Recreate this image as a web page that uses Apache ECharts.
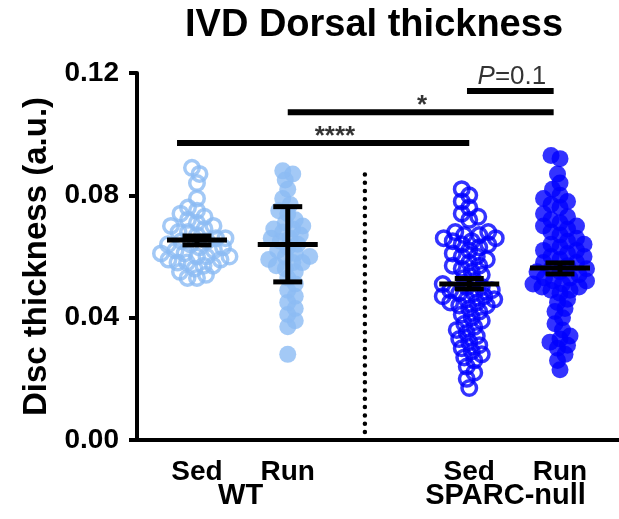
<!DOCTYPE html>
<html>
<head>
<meta charset="utf-8">
<script src="https://cdn.jsdelivr.net/npm/echarts@6/dist/echarts.min.js"></script>
<style>
  html, body { margin: 0; padding: 0; background: #fff; }
  #chart { width: 619px; height: 519px; }
</style>
</head>
<body>
<div id="chart"></div>
<script>
  // categories
  const conditions = ['Sed', 'Run', 'Sed', 'Run'];
  const genotypes = ['WT', 'SPARC-null'];

  // disc thickness readings per group
  const wtSed = [0.089, 0.087, 0.084, 0.079, 0.076, 0.075, 0.074, 0.073, 0.072, 0.071, 0.070, 0.070, 0.069, 0.068,
    0.068, 0.067, 0.066, 0.066, 0.065, 0.065, 0.064, 0.064, 0.063, 0.063, 0.062, 0.062, 0.061, 0.061, 0.060, 0.060,
    0.060, 0.059, 0.059, 0.058, 0.058, 0.057, 0.057, 0.056, 0.055, 0.054, 0.053, 0.053];
  const wtRun = [0.088, 0.087, 0.085, 0.082, 0.079, 0.077, 0.075, 0.074, 0.072, 0.071, 0.070, 0.069, 0.069, 0.068,
    0.067, 0.066, 0.066, 0.065, 0.064, 0.063, 0.062, 0.061, 0.060, 0.060, 0.059, 0.058, 0.058, 0.057, 0.056, 0.055,
    0.053, 0.051, 0.049, 0.047, 0.045, 0.043, 0.041, 0.039, 0.037, 0.028];
  const nullSed = [0.082, 0.080, 0.078, 0.076, 0.074, 0.073, 0.072,
    0.068, 0.068, 0.067, 0.067, 0.066, 0.066, 0.065, 0.065, 0.064, 0.064,
    0.063, 0.062, 0.061, 0.060, 0.060, 0.059, 0.058, 0.057, 0.057, 0.056, 0.055,
    0.054, 0.053, 0.052, 0.051, 0.050, 0.050, 0.049, 0.049, 0.048, 0.048, 0.047, 0.047, 0.046, 0.046, 0.045, 0.045, 0.044, 0.044,
    0.043, 0.042, 0.041, 0.040, 0.039, 0.038, 0.037, 0.036, 0.035,
    0.034, 0.033, 0.032, 0.031, 0.030, 0.029, 0.028, 0.027, 0.026,
    0.024, 0.022, 0.020, 0.017];
  const nullRun = [0.093, 0.092, 0.087, 0.084, 0.082, 0.080, 0.079, 0.078, 0.077, 0.076,
    0.074, 0.073, 0.072, 0.071, 0.070, 0.070, 0.069, 0.068,
    0.067, 0.066, 0.065, 0.064, 0.064, 0.063, 0.062, 0.062, 0.061, 0.060, 0.060, 0.059, 0.058, 0.058, 0.057,
    0.056, 0.056, 0.055, 0.055, 0.054, 0.053, 0.053, 0.052, 0.052, 0.051, 0.051, 0.050, 0.050, 0.049, 0.049, 0.048,
    0.046, 0.045, 0.043, 0.042, 0.040, 0.038, 0.036,
    0.034, 0.033, 0.032, 0.031, 0.030, 0.028, 0.026, 0.023];

  // mean and error bar ends (SEM, SD for WT Run)
  const means = [0.0654, 0.0639, 0.0510, 0.0562];
  const errLow = [0.0638, 0.0517, 0.0494, 0.0543];
  const errHigh = [0.0667, 0.0763, 0.0528, 0.0579];

  // significance comparisons
  const sigLabels = ['****', '*', '{i|P}=0.1'];

  const font = "'Liberation Sans', Arial, sans-serif";
  const lightBlue = '#8cbbf4';
  const blue = '#0000ff';

  const gridTop = 73, gridBottom = 79, gridLeft = 137;
  const plotH = 519 - gridTop - gridBottom;
  const yMax = 0.12;
  const xMin = -0.661, xMax = 4.65;
  const pxPerX = (619 - gridLeft) / (xMax - xMin);
  const pxPerY = plotH / yMax;

  // simple beeswarm: spread points sideways so they don't pile up
  function swarm(values, cx, d) {
    const placed = [];
    const sorted = values.slice().sort((a, b) => a - b);
    return sorted.map((v, i) => {
      const y = v * pxPerY;
      let off = 0;
      for (let k = 0; k < 400; k++) {
        const s = (i % 2 ? 1 : -1) * (k % 2 ? -1 : 1);
        const cand = s * Math.ceil(k / 2) * 0.5;
        let ok = true;
        for (const p of placed) {
          const dx = p[0] - cand, dy = p[1] - y;
          if (dx * dx + dy * dy < d * d) { ok = false; break; }
        }
        if (ok) { off = cand; break; }
      }
      placed.push([off, y]);
      return [cx + off / pxPerX, v];
    });
  }

  const groups = [
    { vals: wtSed, color: lightBlue, open: true },
    { vals: wtRun, color: lightBlue, open: false },
    { vals: nullSed, color: blue, open: true },
    { vals: nullRun, color: blue, open: false }
  ];
  const groupX = [0, 1, 3, 4];

  const series = [];
  groups.forEach((g, i) => {
    series.push({
      type: 'scatter',
      data: swarm(g.vals, groupX[i], 9.5),
      symbol: 'circle',
      symbolSize: g.open ? 14.5 : 17,
      itemStyle: g.open
        ? { color: 'rgba(255,255,255,0)', borderColor: g.color, borderWidth: 3.5 }
        : { color: g.color },
      z: 2
    });
  });

  // mean + error bars
  series.push({
    type: 'custom',
    z: 5,
    data: groupX.map((x, i) => [x, means[i], errLow[i], errHigh[i]]),
    renderItem: function (params, api) {
      const m = api.coord([api.value(0), api.value(1)]);
      const lo = api.coord([api.value(0), api.value(2)]);
      const hi = api.coord([api.value(0), api.value(3)]);
      const st = { stroke: '#000', lineWidth: 5 };
      return {
        type: 'group',
        children: [
          { type: 'line', shape: { x1: m[0] - 30, y1: m[1], x2: m[0] + 30, y2: m[1] }, style: st },
          { type: 'line', shape: { x1: lo[0], y1: lo[1], x2: hi[0], y2: hi[1] }, style: st },
          { type: 'line', shape: { x1: lo[0] - 14.5, y1: lo[1], x2: lo[0] + 14.5, y2: lo[1] }, style: st },
          { type: 'line', shape: { x1: hi[0] - 14.5, y1: hi[1], x2: hi[0] + 14.5, y2: hi[1] }, style: st }
        ]
      };
    }
  });

  // dotted divider between genotypes
  series.push({
    type: 'line',
    data: [[1.85, 0.0026], [1.85, 0.0876]],
    symbol: 'none',
    lineStyle: { color: '#000', width: 4.5, type: [0.01, 8.3], cap: 'round' },
    z: 3
  });

  // significance bars
  const sigBars = [
    [[-0.22, 0.0971], [3, 0.0971]],
    [[1, 0.1072], [3.93, 0.1072]],
    [[2.975, 0.1141], [3.93, 0.1141]]
  ];
  sigBars.forEach(b => {
    series.push({
      type: 'line', data: b, symbol: 'none',
      lineStyle: { color: '#000', width: 6, cap: 'butt' }, z: 3
    });
  });
  series.push({
    type: 'scatter',
    symbolSize: 0,
    data: [
      { value: [1.52, 0.0975], label: { distance: -8, fontWeight: 'bold' } },
      { value: [2.48, 0.1076], label: { distance: -8, fontWeight: 'bold' } },
      { value: [3.47, 0.1145], label: { distance: 0 } }
    ],
    label: {
      show: true, position: 'top',
      formatter: p => sigLabels[p.dataIndex],
      color: '#000', fontFamily: font, fontSize: 26,
      rich: { i: { fontStyle: 'italic', fontSize: 26, fontFamily: font, color: '#000' } }
    },
    z: 4
  });

  const chart = echarts.init(document.getElementById('chart'));
  chart.setOption({
    animation: false,
    title: {
      text: 'IVD Dorsal thickness',
      left: 369, top: 2, textAlign: 'center',
      textStyle: { fontFamily: font, fontSize: 38, fontWeight: 'bold', color: '#000' }
    },
    grid: { left: gridLeft, right: 0, top: gridTop, bottom: gridBottom },
    xAxis: [{
      type: 'value', min: xMin, max: xMax,
      splitLine: { show: false },
      axisLine: { onZero: false, lineStyle: { color: '#000', width: 4 } },
      axisTick: { show: false },
      axisLabel: {
        customValues: groupX,
        formatter: v => conditions[groupX.indexOf(v)],
        margin: 18, color: '#000', fontFamily: font, fontSize: 28, fontWeight: 'bold'
      }
    }, {
      type: 'value', min: xMin, max: xMax, position: 'bottom',
      splitLine: { show: false },
      axisLine: { show: false, onZero: false },
      axisTick: { show: false },
      axisLabel: {
        customValues: [0.48, 3.4],
        formatter: v => genotypes[v < 2 ? 0 : 1],
        margin: 41, color: '#000', fontFamily: font, fontSize: 29, fontWeight: 'bold'
      }
    }],
    yAxis: {
      type: 'value', min: 0, max: yMax, interval: 0.04,
      name: 'Disc thickness (a.u.)',
      nameLocation: 'middle', nameGap: 82,
      nameTextStyle: { fontFamily: font, fontSize: 33, fontWeight: 'bold', color: '#000' },
      splitLine: { show: false },
      axisLine: { show: true, onZero: false, lineStyle: { color: '#000', width: 4 } },
      axisTick: { show: true, length: 8, lineStyle: { color: '#000', width: 4 } },
      axisLabel: {
        formatter: v => v.toFixed(2),
        margin: 18, color: '#000', fontFamily: font, fontSize: 28, fontWeight: 'bold'
      }
    },
    series: series
  });
</script>
</body>
</html>
